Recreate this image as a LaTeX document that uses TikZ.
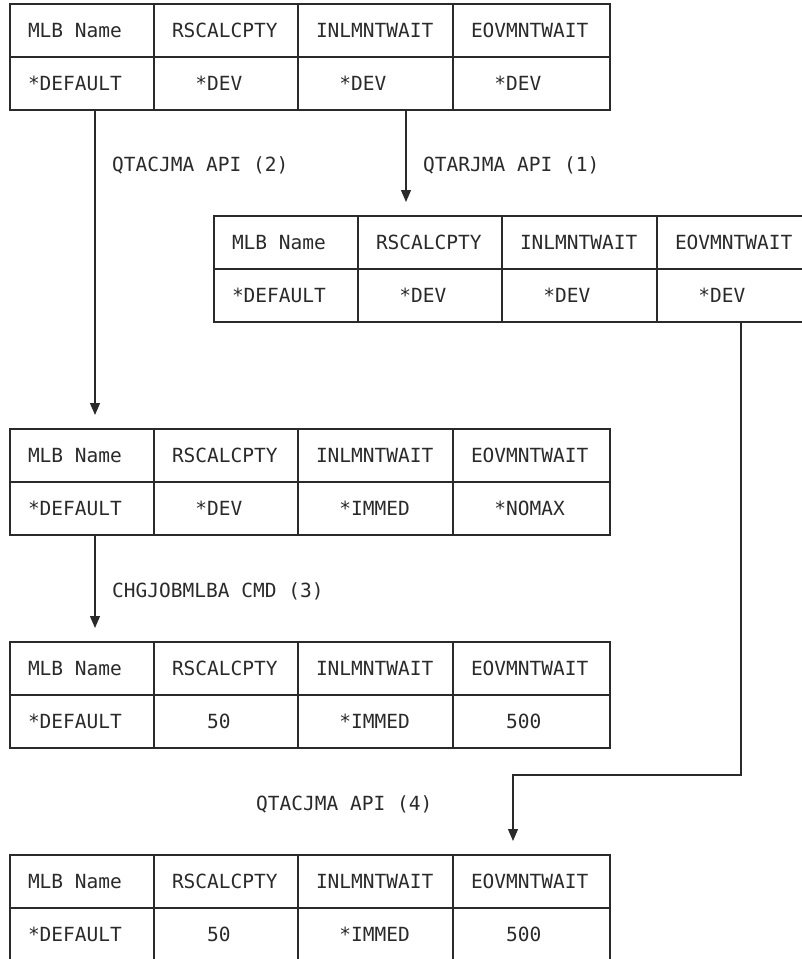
\documentclass[tikz,border=0pt]{standalone}
\usepackage{fontspec}
\setmonofont[WordSpace={1,0,0}]{DejaVu Sans Mono}
\usetikzlibrary{positioning,arrows.meta}
\definecolor{ink}{HTML}{2A2A2A}
\tikzset{
  cell/.style={draw=ink, line width=1.2pt, outer sep=0pt, inner xsep=18pt, inner ysep=0pt,
    minimum height=53pt, text height=14.2pt, text depth=0pt, text width=#1, align=flush left, text=ink},
  flow/.style={draw=ink, line width=1.2pt, -{Triangle[width=10pt,length=12pt]}, shorten >=14pt},
  note/.style={anchor=base west, inner sep=0pt, text=ink}
}
\begin{document}
\begin{tikzpicture}[x=1pt,y=-1pt,font=\ttfamily\fontsize{19.5}{23}\selectfont]
\useasboundingbox (0,0) rectangle (802,959);
\clip (0,0) rectangle (802,959);
% table 1
\node[cell=108pt,anchor=north west] (h1a) at (10,4) {MLB Name};
\node[cell=108pt,right=0pt of h1a] (h1b) {RSCALCPTY};
\node[cell=119pt,right=0pt of h1b] (h1c) {INLMNTWAIT};
\node[cell=121pt,right=0pt of h1c] (h1d) {EOVMNTWAIT};
\node[cell=108pt,below=0pt of h1a] (v1a) {*DEFAULT};
\node[cell=108pt,below=0pt of h1b] (v1b) {\hphantom{00}*DEV};
\node[cell=119pt,below=0pt of h1c] (v1c) {\hphantom{00}*DEV};
\node[cell=121pt,below=0pt of h1d] (v1d) {\hphantom{00}*DEV};
% table 2
\node[cell=108pt,anchor=north west] (h2a) at (214,216) {MLB Name};
\node[cell=108pt,right=0pt of h2a] (h2b) {RSCALCPTY};
\node[cell=119pt,right=0pt of h2b] (h2c) {INLMNTWAIT};
\node[cell=121pt,right=0pt of h2c] (h2d) {EOVMNTWAIT};
\node[cell=108pt,below=0pt of h2a] (v2a) {*DEFAULT};
\node[cell=108pt,below=0pt of h2b] (v2b) {\hphantom{00}*DEV};
\node[cell=119pt,below=0pt of h2c] (v2c) {\hphantom{00}*DEV};
\node[cell=121pt,below=0pt of h2d] (v2d) {\hphantom{00}*DEV};
% table 3
\node[cell=108pt,anchor=north west] (h3a) at (10,429) {MLB Name};
\node[cell=108pt,right=0pt of h3a] (h3b) {RSCALCPTY};
\node[cell=119pt,right=0pt of h3b] (h3c) {INLMNTWAIT};
\node[cell=121pt,right=0pt of h3c] (h3d) {EOVMNTWAIT};
\node[cell=108pt,below=0pt of h3a] (v3a) {*DEFAULT};
\node[cell=108pt,below=0pt of h3b] (v3b) {\hphantom{00}*DEV};
\node[cell=119pt,below=0pt of h3c] (v3c) {\hphantom{00}*IMMED};
\node[cell=121pt,below=0pt of h3d] (v3d) {\hphantom{00}*NOMAX};
% table 4
\node[cell=108pt,anchor=north west] (h4a) at (10,642) {MLB Name};
\node[cell=108pt,right=0pt of h4a] (h4b) {RSCALCPTY};
\node[cell=119pt,right=0pt of h4b] (h4c) {INLMNTWAIT};
\node[cell=121pt,right=0pt of h4c] (h4d) {EOVMNTWAIT};
\node[cell=108pt,below=0pt of h4a] (v4a) {*DEFAULT};
\node[cell=108pt,below=0pt of h4b] (v4b) {\hphantom{000}50};
\node[cell=119pt,below=0pt of h4c] (v4c) {\hphantom{00}*IMMED};
\node[cell=121pt,below=0pt of h4d] (v4d) {\hphantom{000}500};
% table 5
\node[cell=108pt,anchor=north west] (h5a) at (10,855) {MLB Name};
\node[cell=108pt,right=0pt of h5a] (h5b) {RSCALCPTY};
\node[cell=119pt,right=0pt of h5b] (h5c) {INLMNTWAIT};
\node[cell=121pt,right=0pt of h5c] (h5d) {EOVMNTWAIT};
\node[cell=108pt,below=0pt of h5a] (v5a) {*DEFAULT};
\node[cell=108pt,below=0pt of h5b] (v5b) {\hphantom{000}50};
\node[cell=119pt,below=0pt of h5c] (v5c) {\hphantom{00}*IMMED};
\node[cell=121pt,below=0pt of h5d] (v5d) {\hphantom{000}500};
% arrows
\coordinate (a1) at (406,0);
\coordinate (a2) at (95,0);
\coordinate (a4) at (741,0);
\coordinate (k4) at (513,775);
\draw[flow] (v1c.south -| a1) -- (h2b.north -| a1);
\draw[flow] (v1a.south -| a2) -- (h3a.north -| a2);
\draw[flow] (v3a.south -| a2) -- (h4a.north -| a2);
\draw[flow] (v2d.south -| a4) |- (k4) -- (h5d.north -| k4);
% labels
\node[note] (l1) at (423,171) {QTARJMA API (1)};
\node[note] (l2) at (112,171) {QTACJMA API (2)};
\node[note] (l3) at (112,597) {CHGJOBMLBA CMD (3)};
\node[note] (l4) at (256,810) {QTACJMA API (4)};
\end{tikzpicture}
\end{document}
